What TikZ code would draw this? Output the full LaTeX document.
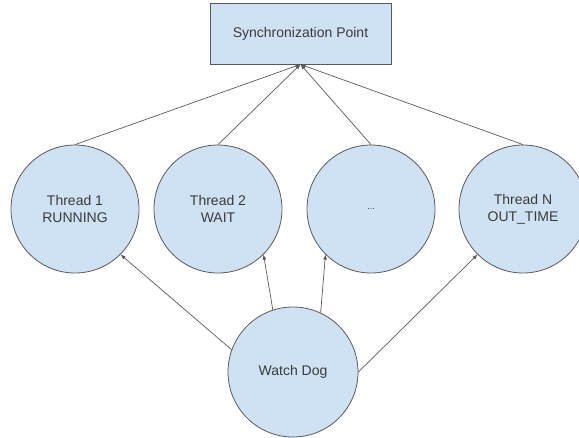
\documentclass[tikz,border=0pt]{standalone}
\usepackage{fontspec}
\setmainfont{Liberation Sans}
\usetikzlibrary{arrows.meta}
\definecolor{nodefill}{HTML}{CFE2F3}
\definecolor{nodeline}{HTML}{595959}
\definecolor{textgray}{HTML}{3A3A3A}
\tikzset{
	thread/.style={circle, draw=nodeline, fill=nodefill, line width=0.8pt, minimum size=128pt, inner sep=0pt, align=center, text=textgray, font=\fontsize{14}{17}\selectfont},
	syncbox/.style={rectangle, draw=nodeline, fill=nodefill, line width=0.8pt, minimum width=181pt, minimum height=61pt, inner sep=0pt, text=textgray, font=\fontsize{14}{17}\selectfont},
	link/.style={draw=nodeline, line width=0.7pt, -{Latex[length=5pt,width=4pt]}}
}

\begin{document}
\begin{tikzpicture}[x=1pt, y=-1pt]
		%%%%% START %%%%%
		
		\useasboundingbox (0, 0) rectangle (579, 437);
		
		\node[syncbox] (sync) at (300.5, 33.5) {Synchronization Point};
		
		\node[thread] (t1) at (75, 209) {Thread 1\\RUNNING};
		\node[thread] (t2) at (218, 209) {Thread 2\\WAIT};
		\node[thread] (tdots) at (371, 209) {\fontsize{9}{10}\selectfont ...};
		\node[thread] (tn) at (523, 209) {Thread N\\OUT\_TIME};
		
		\node[thread, minimum size=130pt] (dog) at (293, 372) {Watch Dog};
		
		\draw[link] (t1.north) -- (sync.south);
		\draw[link] (t2.north) -- (sync.south);
		\draw[link] (tdots.north) -- (sync.south);
		\draw[link] (tn.north) -- (sync.south);
		
		\draw[link] (dog.160) -- (t1.315);
		\draw[link] (dog.108) -- (t2.315);
		\draw[link] (dog.65) -- (tdots.225);
		\draw[link] (dog.east) -- (tn.225);
		
		%%%%% END %%%%%
\end{tikzpicture}
\end{document}
